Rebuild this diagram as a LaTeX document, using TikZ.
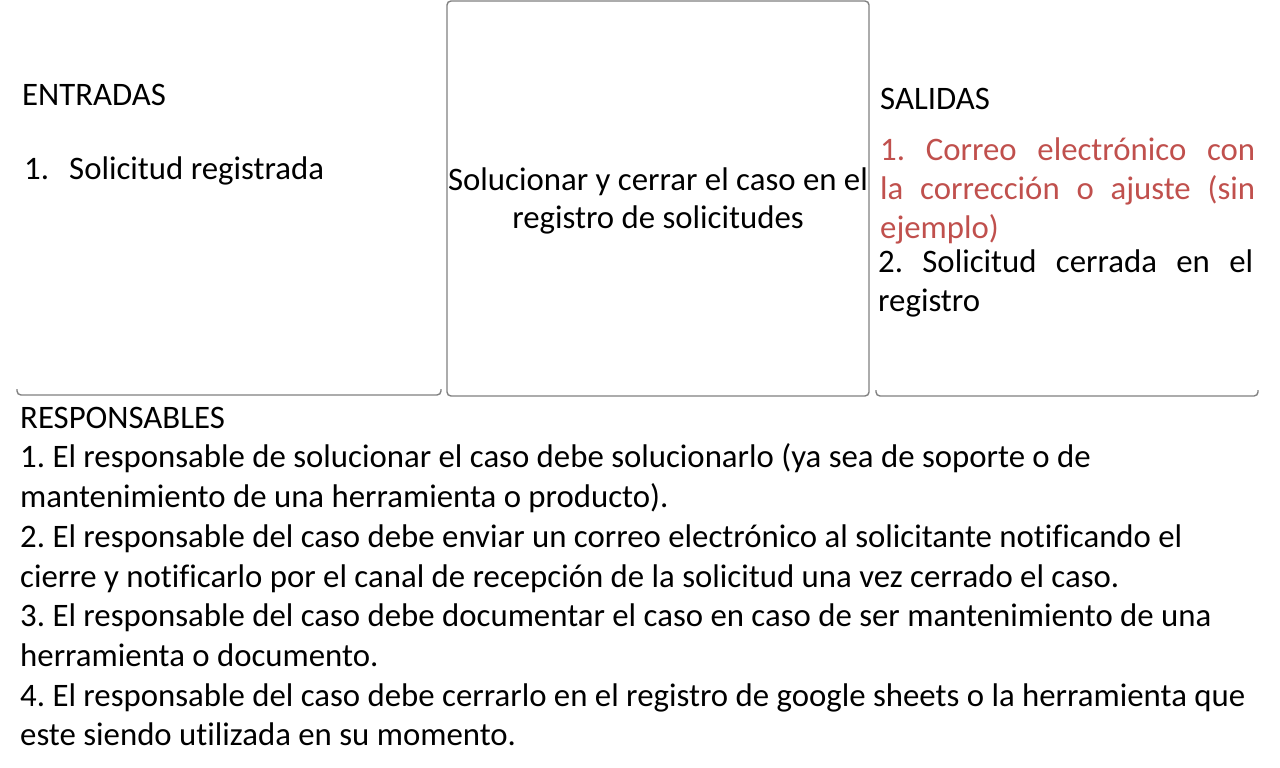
\documentclass[tikz,border=0pt]{standalone}
\usepackage{fontspec}
\setmainfont{Carlito}[Ligatures=NoCommon]
\usepackage{tikz}

\definecolor{salidared}{RGB}{192,80,77}
\definecolor{boxgray}{RGB}{128,128,128}
\frenchspacing

\begin{document}
\begin{tikzpicture}[x=1pt,y=-1pt,
  txt/.style={anchor=base west,inner sep=0pt,font=\fontsize{32.8}{38}\selectfont},
  frame/.style={draw=boxgray,line width=1.4pt,rounded corners=4pt}]
\useasboundingbox (0,0) rectangle (1280,768);
% frames
\draw[frame] (447,1) rectangle (869,396);
\draw[frame] (17,389) |- (441,395) -- (441,389);
\draw[frame] (876,390) |- (1258,396) -- (1258,390);
% entradas
\node[txt] (ent) at (22,105) {ENTRADAS};
\node[txt] (ent1n) at (24,179) {1.};
\node[txt] (ent1) at (69,179) {Solicitud registrada};
% proceso
\node[txt,anchor=base] (proc1) at (658,190) {Solucionar y cerrar el caso en el};
\node[txt,anchor=base] (proc2) at (658,228) {registro de solicitudes};
% salidas
\node[txt] (sal) at (880,109) {SALIDAS};
\node[txt,text=salidared] (sal1a) at (880,160) {\makebox[375pt][s]{1. Correo electrónico con}};
\node[txt,text=salidared] (sal1b) at (880,199) {\makebox[375pt][s]{la corrección o ajuste (sin}};
\node[txt,text=salidared] (sal1c) at (880,238) {ejemplo)};
\node[txt] (sal2a) at (878,272) {\makebox[375pt][s]{2. Solicitud cerrada en el}};
\node[txt] (sal2b) at (878,311) {registro};
% responsables
\foreach \line [count=\i] in {
  {RESPONSABLES},
  {1. El responsable de solucionar el caso debe solucionarlo (ya sea de soporte o de},
  {mantenimiento de una herramienta o producto).},
  {2. El responsable del caso debe enviar un correo electrónico al solicitante notificando el},
  {cierre y notificarlo por el canal de recepción de la solicitud una vez cerrado el caso.},
  {3. El responsable del caso debe documentar el caso en caso de ser mantenimiento de una},
  {herramienta o documento.},
  {4. El responsable del caso debe cerrarlo en el registro de google sheets o la herramienta que},
  {este siendo utilizada en su momento.}}
  \node[txt] (resp\i) at (20,{388.5+39.7*\i}) {\line};
\end{tikzpicture}
\end{document}
